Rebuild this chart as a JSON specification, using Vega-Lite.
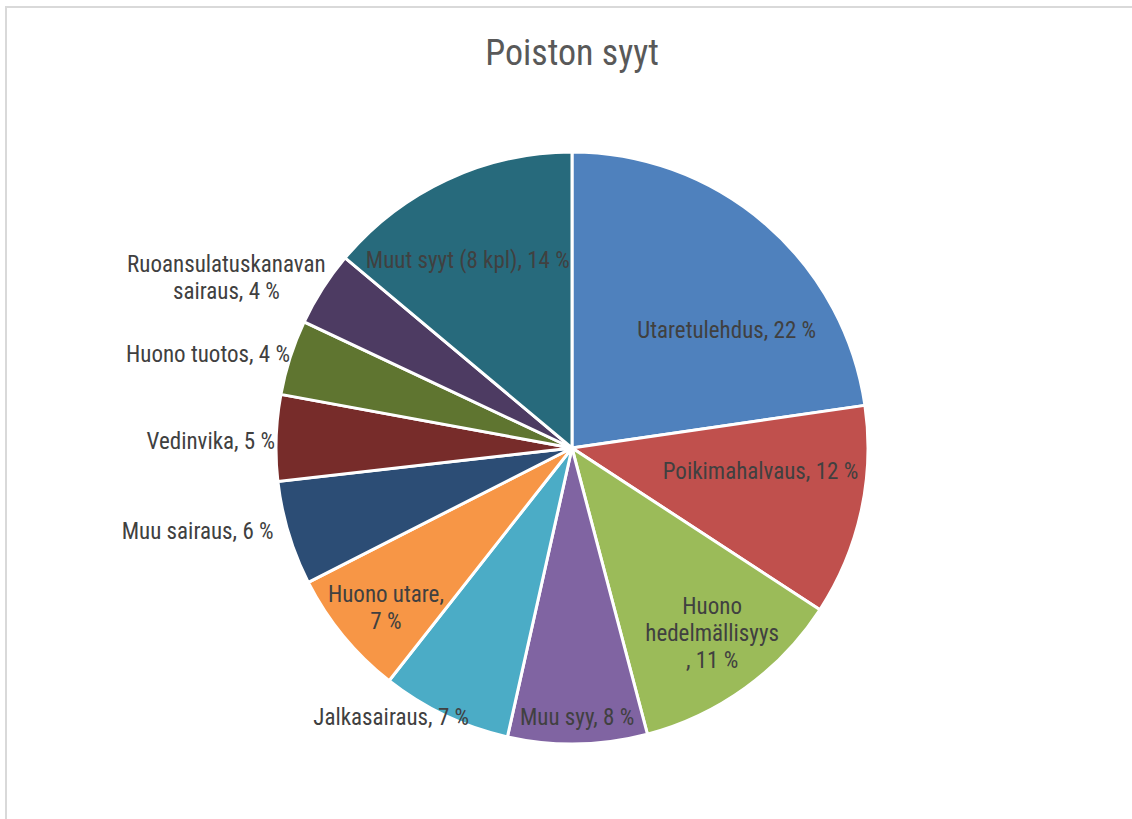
{
  "$schema": "https://vega.github.io/schema/vega-lite/v6.json",
  "width": 1132,
  "height": 882,
  "autosize": {"type": "none"},
  "padding": {"left": 6, "top": 7, "right": 0, "bottom": 0},
  "background": "white",
  "view": {"stroke": "#d9d9d9", "strokeWidth": 2},
  "title": {"text": "Poiston syyt", "anchor": "middle", "font": "Roboto Condensed, Liberation Sans", "fontSize": 36, "fontWeight": "normal", "color": "#595959", "offset": -94, "baseline": "alphabetic"},
  "data": {"values": [
    {"i": 1, "cause": "Utaretulehdus", "label": "Utaretulehdus, 22 %", "value": 22.7},
    {"i": 2, "cause": "Poikimahalvaus", "label": "Poikimahalvaus, 12 %", "value": 11.5},
    {"i": 3, "cause": "Huono hedelmällisyys", "label": "Huono\nhedelmällisyys\n, 11 %", "value": 11.7},
    {"i": 4, "cause": "Muu syy", "label": "Muu syy, 8 %", "value": 7.6},
    {"i": 5, "cause": "Jalkasairaus", "label": "Jalkasairaus, 7 %", "value": 7.1},
    {"i": 6, "cause": "Huono utare", "label": "Huono utare,\n7 %", "value": 6.9},
    {"i": 7, "cause": "Muu sairaus", "label": "Muu sairaus, 6 %", "value": 5.7},
    {"i": 8, "cause": "Vedinvika", "label": "Vedinvika, 5 %", "value": 4.7},
    {"i": 9, "cause": "Huono tuotos", "label": "Huono tuotos, 4 %", "value": 4.1},
    {"i": 10, "cause": "Ruoansulatuskanavan sairaus", "label": "Ruoansulatuskanavan\nsairaus, 4 %", "value": 4.1},
    {"i": 11, "cause": "Muut syyt (8 kpl)", "label": "Muut syyt (8 kpl), 14 %", "value": 13.9}
  ]},
  "encoding": {
    "theta": {"field": "value", "type": "quantitative", "stack": true},
    "order": {"field": "i", "type": "quantitative"},
    "detail": {"field": "cause", "type": "nominal"}
  },
  "layer": [
    {
      "mark": {"type": "arc", "outerRadius": 296, "stroke": "white", "strokeWidth": 3},
      "encoding": {
        "color": {"field": "cause", "type": "nominal", "sort": null, "legend": null,
          "scale": {
            "domain": ["Utaretulehdus", "Poikimahalvaus", "Huono hedelmällisyys", "Muu syy", "Jalkasairaus", "Huono utare", "Muu sairaus", "Vedinvika", "Huono tuotos", "Ruoansulatuskanavan sairaus", "Muut syyt (8 kpl)"],
            "range": ["#4F81BD", "#C0504D", "#9BBB59", "#8064A2", "#4BACC6", "#F79646", "#2C4D75", "#772C2A", "#5F7530", "#4D3B62", "#276A7C"]
          }}
      }
    },
    {
      "mark": {"type": "text", "radius": 194, "thetaOffset": 0.21, "font": "Roboto Condensed, Liberation Sans", "fontSize": 23, "fill": "#404040", "lineBreak": "\n", "lineHeight": 27},
      "encoding": {"text": {"field": "label", "type": "nominal"},
        "opacity": {"condition": {"test": "datum.cause === 'Utaretulehdus'", "value": 1}, "value": 0}}
    },
    {
      "mark": {"type": "text", "radius": 190, "thetaOffset": -0.09, "font": "Roboto Condensed, Liberation Sans", "fontSize": 23, "fill": "#404040", "lineBreak": "\n", "lineHeight": 27},
      "encoding": {"text": {"field": "label", "type": "nominal"},
        "opacity": {"condition": {"test": "datum.cause === 'Poikimahalvaus'", "value": 1}, "value": 0}}
    },
    {
      "mark": {"type": "text", "radius": 214, "thetaOffset": -0.072, "font": "Roboto Condensed, Liberation Sans", "fontSize": 23, "fill": "#404040", "lineBreak": "\n", "lineHeight": 27},
      "encoding": {"text": {"field": "label", "type": "nominal"},
        "opacity": {"condition": {"test": "datum.cause === 'Muut syyt (8 kpl)'", "value": 1}, "value": 0}}
    },
    {
      "mark": {"type": "text", "radius": 212, "thetaOffset": -0.097, "font": "Roboto Condensed, Liberation Sans", "fontSize": 23, "fill": "#404040", "lineBreak": "\n", "lineHeight": 27},
      "encoding": {"text": {"field": "label", "type": "nominal"},
        "opacity": {"condition": {"test": "datum.cause === 'Huono hedelmällisyys'", "value": 1}, "value": 0}}
    },
    {
      "mark": {"type": "text", "radius": 237, "thetaOffset": 0.02, "font": "Roboto Condensed, Liberation Sans", "fontSize": 23, "fill": "#404040", "lineBreak": "\n", "lineHeight": 27},
      "encoding": {"text": {"field": "label", "type": "nominal"},
        "opacity": {"condition": {"test": "datum.cause === 'Huono utare'", "value": 1}, "value": 0}}
    },
    {
      "mark": {"type": "text", "radius": 270, "font": "Roboto Condensed, Liberation Sans", "fontSize": 23, "fill": "#404040", "lineBreak": "\n", "lineHeight": 27},
      "encoding": {"text": {"field": "label", "type": "nominal"},
        "opacity": {"condition": {"test": "datum.cause === 'Muu syy'", "value": 1}, "value": 0}}
    },
    {
      "mark": {"type": "text", "radius": 325, "thetaOffset": 0.147, "font": "Roboto Condensed, Liberation Sans", "fontSize": 23, "fill": "#404040", "lineBreak": "\n", "lineHeight": 27},
      "encoding": {"text": {"field": "label", "type": "nominal"},
        "opacity": {"condition": {"test": "datum.cause === 'Jalkasairaus'", "value": 1}, "value": 0}}
    },
    {
      "mark": {"type": "text", "radius": 310, "thetaOffset": 0.018, "align": "right", "font": "Roboto Condensed, Liberation Sans", "fontSize": 23, "fill": "#404040", "lineBreak": "\n", "lineHeight": 27},
      "encoding": {"text": {"field": "label", "type": "nominal"},
        "opacity": {"condition": {"test": "datum.cause === 'Muu sairaus'", "value": 1}, "value": 0}}
    },
    {
      "mark": {"type": "text", "radius": 297, "thetaOffset": -0.0143, "align": "right", "font": "Roboto Condensed, Liberation Sans", "fontSize": 23, "fill": "#404040", "lineBreak": "\n", "lineHeight": 27},
      "encoding": {"text": {"field": "label", "type": "nominal"},
        "opacity": {"condition": {"test": "datum.cause === 'Vedinvika'", "value": 1}, "value": 0}}
    },
    {
      "mark": {"type": "text", "radius": 297, "thetaOffset": 0.008, "align": "right", "font": "Roboto Condensed, Liberation Sans", "fontSize": 23, "fill": "#404040", "lineBreak": "\n", "lineHeight": 27},
      "encoding": {"text": {"field": "label", "type": "nominal"},
        "opacity": {"condition": {"test": "datum.cause === 'Huono tuotos'", "value": 1}, "value": 0}}
    },
    {
      "mark": {"type": "text", "radius": 391, "thetaOffset": -0.082, "font": "Roboto Condensed, Liberation Sans", "fontSize": 23, "fill": "#404040", "lineBreak": "\n", "lineHeight": 27},
      "encoding": {"text": {"field": "label", "type": "nominal"},
        "opacity": {"condition": {"test": "datum.cause === 'Ruoansulatuskanavan sairaus'", "value": 1}, "value": 0}}
    }
  ]
}
